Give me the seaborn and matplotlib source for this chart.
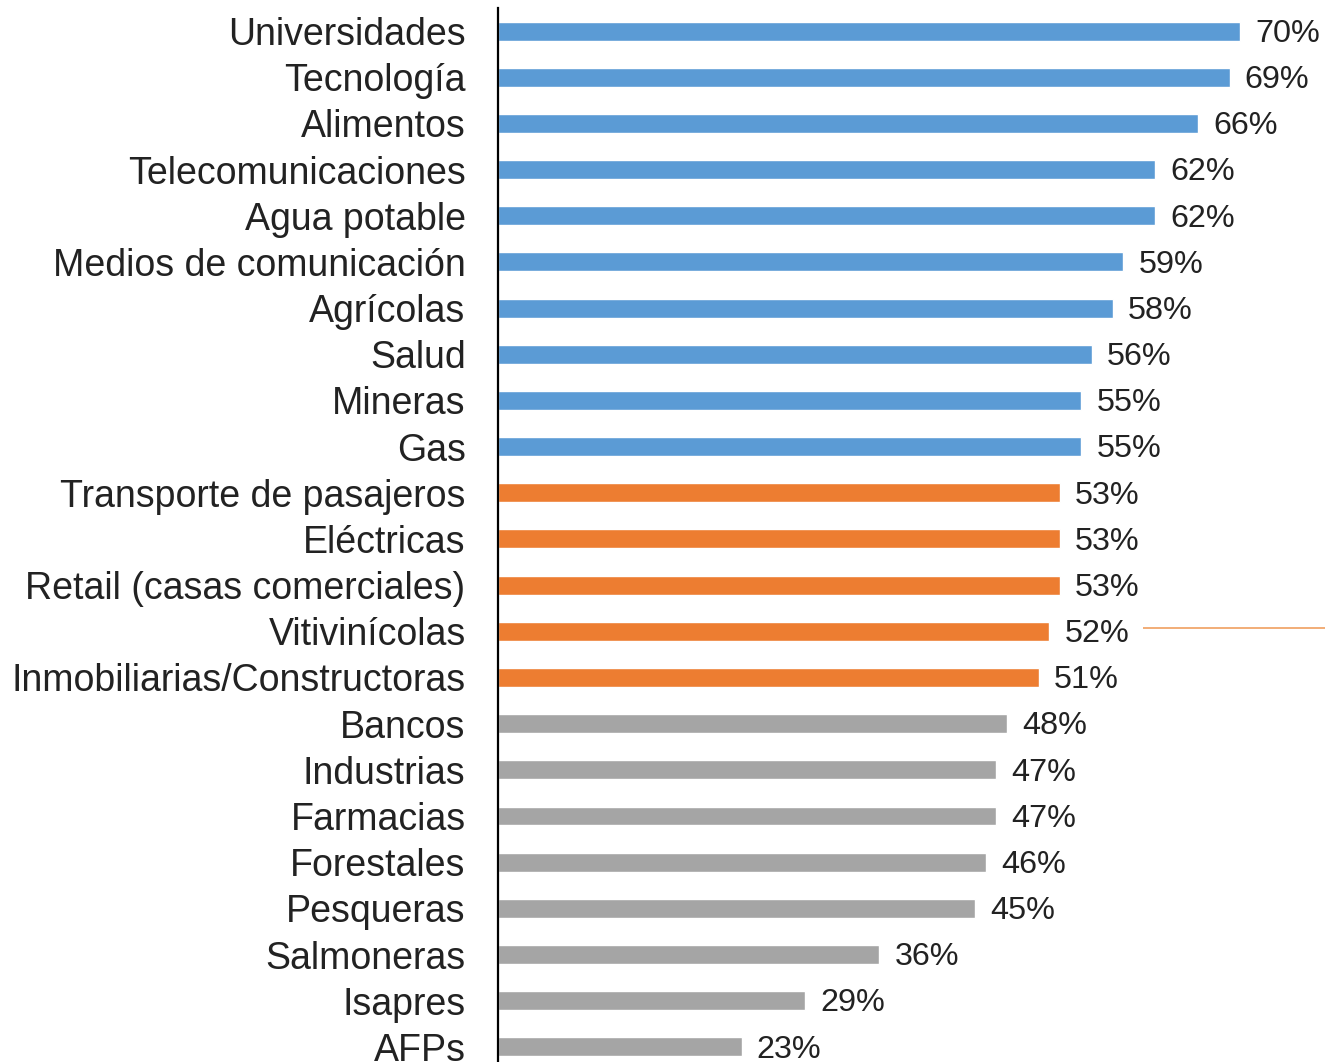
import pandas as pd
import matplotlib.pyplot as plt
import seaborn as sns

# Datos
sectores = ['Universidades', 'Tecnología', 'Alimentos', 'Telecomunicaciones',
            'Agua potable', 'Medios de comunicación', 'Agrícolas', 'Salud',
            'Mineras', 'Gas', 'Transporte de pasajeros', 'Eléctricas',
            'Retail (casas comerciales)', 'Vitivinícolas',
            'Inmobiliarias/Constructoras', 'Bancos', 'Industrias', 'Farmacias',
            'Forestales', 'Pesqueras', 'Salmoneras', 'Isapres', 'AFPs']
valores = [70, 69, 66, 62, 62, 59, 58, 56, 55, 55, 53, 53, 53, 52, 51,
           48, 47, 47, 46, 45, 36, 29, 23]
grupos = ['alto'] * 10 + ['medio'] * 5 + ['bajo'] * 8
colores = {'alto': '#5B9BD5', 'medio': '#ED7D31', 'bajo': '#A5A5A5'}

df = pd.DataFrame({'sector': sectores, 'valor': valores, 'grupo': grupos})

sns.set_style('white')
plt.rcParams['font.family'] = ['Liberation Sans', 'DejaVu Sans']

fig = plt.figure(figsize=(13.25, 10.62), dpi=100)
ax = fig.add_axes([0.3755, -0.0075, 0.6245, 1.0])

sns.barplot(data=df, y='sector', x='valor', hue='grupo', palette=colores,
            orient='h', dodge=False, width=0.41, saturation=1, legend=False,
            ax=ax)

# Etiquetas de valor
for i, v in enumerate(valores):
    ax.annotate(f'{v}%', xy=(v, i), xytext=(11, -2), textcoords='offset points',
                va='center', ha='left', fontsize=23.3, color='#222222')

# Línea decorativa naranja
ax.hlines(13 - 0.08, 60.8, 78, color='#F0A060', linewidth=1.2)

ax.set_xlim(0, 78)
ax.set_ylim(len(sectores) - 0.5, -0.5)
ax.set_xlabel('')
ax.set_ylabel('')
ax.set_xticks([])
ax.tick_params(axis='y', length=0, pad=23, labelsize=27, labelcolor='#222222')
for s in ['top', 'right', 'bottom']:
    ax.spines[s].set_visible(False)
ax.spines['left'].set_color('black')
ax.spines['left'].set_linewidth(1.6)

plt.savefig('out.png', dpi=100)
